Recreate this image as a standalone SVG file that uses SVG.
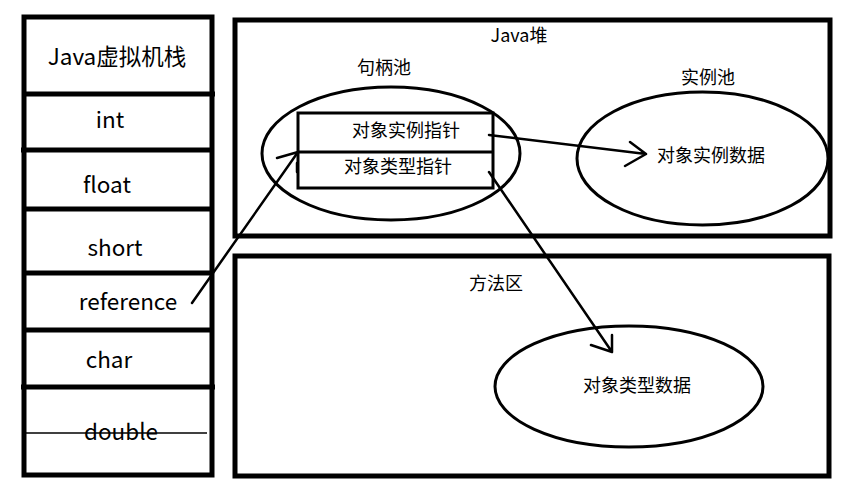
<svg xmlns="http://www.w3.org/2000/svg" width="850" height="492" viewBox="0 0 850 492">
<style>
text{font-family:"Noto Sans CJK SC","Microsoft YaHei","Noto Sans",sans-serif;fill:#000}
.s{font-size:22.5px;text-anchor:middle}
.m{font-size:18px;text-anchor:middle}
.box{fill:none;stroke:#000;stroke-width:5}
.ell{fill:none;stroke:#000;stroke-width:3}
.c{fill:none;stroke:#000;stroke-width:2.5;stroke-linecap:round;stroke-linejoin:round}
</style>
<rect width="850" height="492" fill="#fff"/>
<g id="stack">
<rect class="box" x="24" y="17" width="188" height="458"/>
<line class="box" x1="24" y1="94" x2="215" y2="94"/>
<line class="box" x1="21" y1="150" x2="212" y2="150"/>
<line class="box" x1="24" y1="209" x2="212" y2="209"/>
<line class="box" x1="24" y1="273" x2="212" y2="273"/>
<line class="box" x1="24" y1="330" x2="212" y2="330"/>
<line class="box" x1="21" y1="387" x2="215" y2="387"/>
<text class="s" x="117" y="65">Java虚拟机栈</text>
<text class="s" x="110" y="128">int</text>
<text class="s" x="107" y="193">float</text>
<text class="s" x="115" y="256">short</text>
<text class="s" x="128" y="310">reference</text>
<text class="s" x="109" y="368">char</text>
<text class="s" x="121" y="440">double</text>
<line x1="25" y1="433" x2="207" y2="433" stroke="#000" stroke-width="1.3"/>
</g>
<g id="heap">
<rect class="box" x="235" y="20" width="595" height="216"/>
<text class="m" x="519" y="42">Java堆</text>
</g>
<g id="handlePool">
<ellipse class="ell" cx="391" cy="153.5" rx="129" ry="66.5"/>
<text class="m" x="384" y="74">句柄池</text>
<rect x="298" y="113" width="195" height="75" fill="none" stroke="#000" stroke-width="3"/>
<line x1="298" y1="152" x2="493" y2="152" stroke="#000" stroke-width="3"/>
<text class="m" x="406" y="137">对象实例指针</text>
<text class="m" x="398" y="173">对象类型指针</text>
</g>
<g id="instancePool">
<ellipse class="ell" cx="702.5" cy="158.5" rx="125.5" ry="66.5"/>
<text class="m" x="708" y="84">实例池</text>
<text class="m" x="711" y="162">对象实例数据</text>
</g>
<g id="methodArea">
<rect class="box" x="235" y="256" width="594" height="220"/>
<text class="m" x="496" y="290">方法区</text>
<ellipse class="ell" cx="629" cy="386.5" rx="134" ry="60.5"/>
<text class="m" x="637" y="392">对象类型数据</text>
</g>
<g id="connectors">
<path class="c" d="M192 303 L298 152 M277 158 L298 152 M297 172 L297 163"/>
<path class="c" d="M489 135 L646 154 M630 142 L646 154 L625 166"/>
<path class="c" d="M489 172 L612 352 M591 345 L612 352 L612 335"/>
</g>
</svg>
